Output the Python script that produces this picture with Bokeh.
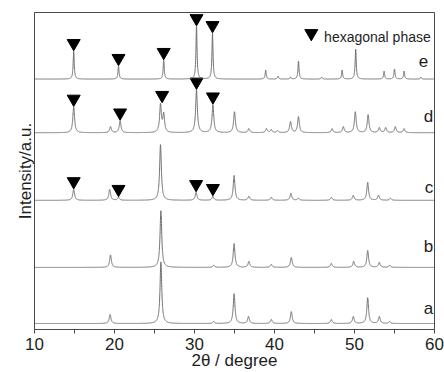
import numpy as np
from bokeh.plotting import figure
from bokeh.models import Range1d, FixedTicker, Label
from bokeh.embed import file_html
from bokeh.resources import INLINE

# ---- data -----------------------------------------------------------------
# peak positions (2theta, degree) and peak heights (a.u.) for each pattern
a_pos = [19.45, 25.8, 32.4, 34.95, 36.75, 39.6, 42.1, 47.1, 49.85, 51.65, 53.1, 54.4]
a_h = [9, 62, 2, 30, 7, 4, 12, 4, 7, 26, 7, 2]

b_pos = [19.5, 25.8, 32.4, 34.95, 36.8, 39.6, 42.1, 47.1, 49.9, 51.65, 53.1, 54.4]
b_h = [12.5, 57, 2, 24, 6, 3, 10, 4, 6, 17, 5, 2]

c_pos = [14.9, 19.4, 20.5, 25.75, 30.2, 32.3, 34.95, 36.8, 39.6, 42.05, 43.0, 47.1, 49.85, 51.65, 53.0, 54.5]
c_h = [11, 11, 3, 56, 8, 4, 25, 4, 3, 7, 2, 3, 5, 18, 5, 2]

d_pos = [14.9, 19.5, 20.7, 25.75, 26.15, 30.25, 32.3, 35.0, 36.8, 39.0, 39.6, 40.4, 42.0, 43.0,
         47.2, 48.6, 50.1, 51.7, 53.1, 53.9, 55.1, 56.2]
d_h = [26, 6, 12, 28, 18, 43, 28, 21, 4, 4, 3, 2, 11, 16, 4, 6, 21, 18, 5, 5, 6, 4]

e_pos = [14.9, 20.5, 26.15, 30.25, 32.25, 38.9, 40.45, 42.0, 43.0, 45.9, 48.45, 50.15, 53.7, 55.0, 56.2, 58.3]
e_h = [28, 13, 19, 53, 46, 9, 3, 2, 18, 2, 9, 30, 8, 10, 8, 2]

# peaks marked as hexagonal phase
hex_c = [14.9, 20.5, 30.2, 32.3]
hex_d = [14.9, 20.7, 25.95, 30.25, 32.3]
hex_e = [14.9, 20.5, 26.15, 30.25, 32.25]

labels = ["a", "b", "c", "d", "e"]
offsets = [6, 62.5, 130, 198, 252]          # vertical stacking of patterns
half_widths = [0.13, 0.13, 0.13, 0.13, 0.08]  # peak half width (degree)
label_dy = [15, 21, 13, 16, 18]             # height of the letter above each pattern
label_x = [59.85, 59.85, 59.85, 59.85, 59.2]

x_ticks = [10, 20, 30, 40, 50, 60]
x_minor = [15, 25, 35, 45, 55]

FONT = "Liberation Sans"
LINE = "#6e6e6e"
TXT = "#1e1e1e"
FRAME = "#4a4a4a"

# ---- figure ---------------------------------------------------------------
p = figure(width=444, height=372, x_range=Range1d(10, 60), y_range=Range1d(0, 319),
           output_backend="svg", toolbar_location=None,
           min_border_left=34, min_border_right=10, min_border_top=12, min_border_bottom=41)
p.grid.visible = False
p.outline_line_color = FRAME
p.outline_line_alpha = 1
p.outline_line_width = 1
p.background_fill_color = "white"
p.border_fill_color = "white"

ax = p.xaxis[0]
ax.ticker = FixedTicker(ticks=x_ticks, minor_ticks=x_minor)
ax.axis_line_color = FRAME
ax.major_tick_line_color = FRAME
ax.minor_tick_line_color = FRAME
ax.major_tick_in = 0
ax.major_tick_out = 4
ax.minor_tick_in = 0
ax.minor_tick_out = 4
ax.major_label_standoff = 4
ax.major_label_text_font = FONT
ax.major_label_text_font_size = "17px"
ax.major_label_text_color = TXT
ax.axis_label = "2θ / degree"
ax.axis_label_text_font = FONT
ax.axis_label_text_font_size = "17px"
ax.axis_label_text_font_style = "normal"
ax.axis_label_text_color = TXT
ax.axis_label_standoff = -2

yax = p.yaxis[0]
yax.ticker = FixedTicker(ticks=[])
yax.axis_line_color = FRAME
yax.major_tick_in = 0
yax.major_tick_out = 0
yax.minor_tick_in = 0
yax.minor_tick_out = 0
yax.major_label_standoff = 0
yax.axis_label = "Intensity/a.u."
yax.axis_label_text_font = FONT
yax.axis_label_text_font_size = "17px"
yax.axis_label_text_font_style = "normal"
yax.axis_label_text_color = TXT
yax.axis_label_standoff = 0

x = np.arange(10.0, 60.0001, 0.01)


def pattern(pos, h, w):
    y = np.zeros_like(x)
    for c0, hh in zip(pos, h):
        y += hh / (1.0 + ((x - c0) / w) ** 2)
    return y


series = [(a_pos, a_h), (b_pos, b_h), (c_pos, c_h), (d_pos, d_h), (e_pos, e_h)]
hex_sets = [[], [], hex_c, hex_d, hex_e]

for (pos, h), off, w, lab, hx, dy, lx in zip(series, offsets, half_widths, labels,
                                             hex_sets, label_dy, label_x):
    y = pattern(pos, h, w) + off
    p.line(x, y, line_color=LINE, line_width=1)
    if hx:
        ty = [float(np.max(y[np.abs(x - hv) < 0.3])) + 8 for hv in hx]
        p.scatter(hx, ty, marker="inverted_triangle", size=13, fill_color="black",
                  line_color="black")
    p.add_layout(Label(x=lx, y=off + dy, text=lab, text_align="right",
                       text_baseline="alphabetic", text_font=FONT,
                       text_font_size="17px", text_color=TXT))

# legend: marker + text
p.scatter([44.6], [298], marker="inverted_triangle", size=13, fill_color="black",
          line_color="black")
p.add_layout(Label(x=46.2, y=294, text="hexagonal phase", text_align="left",
                   text_baseline="middle", text_font=FONT, text_font_size="14px",
                   text_color=TXT))

open("out.html", "w").write(file_html(p, INLINE))
